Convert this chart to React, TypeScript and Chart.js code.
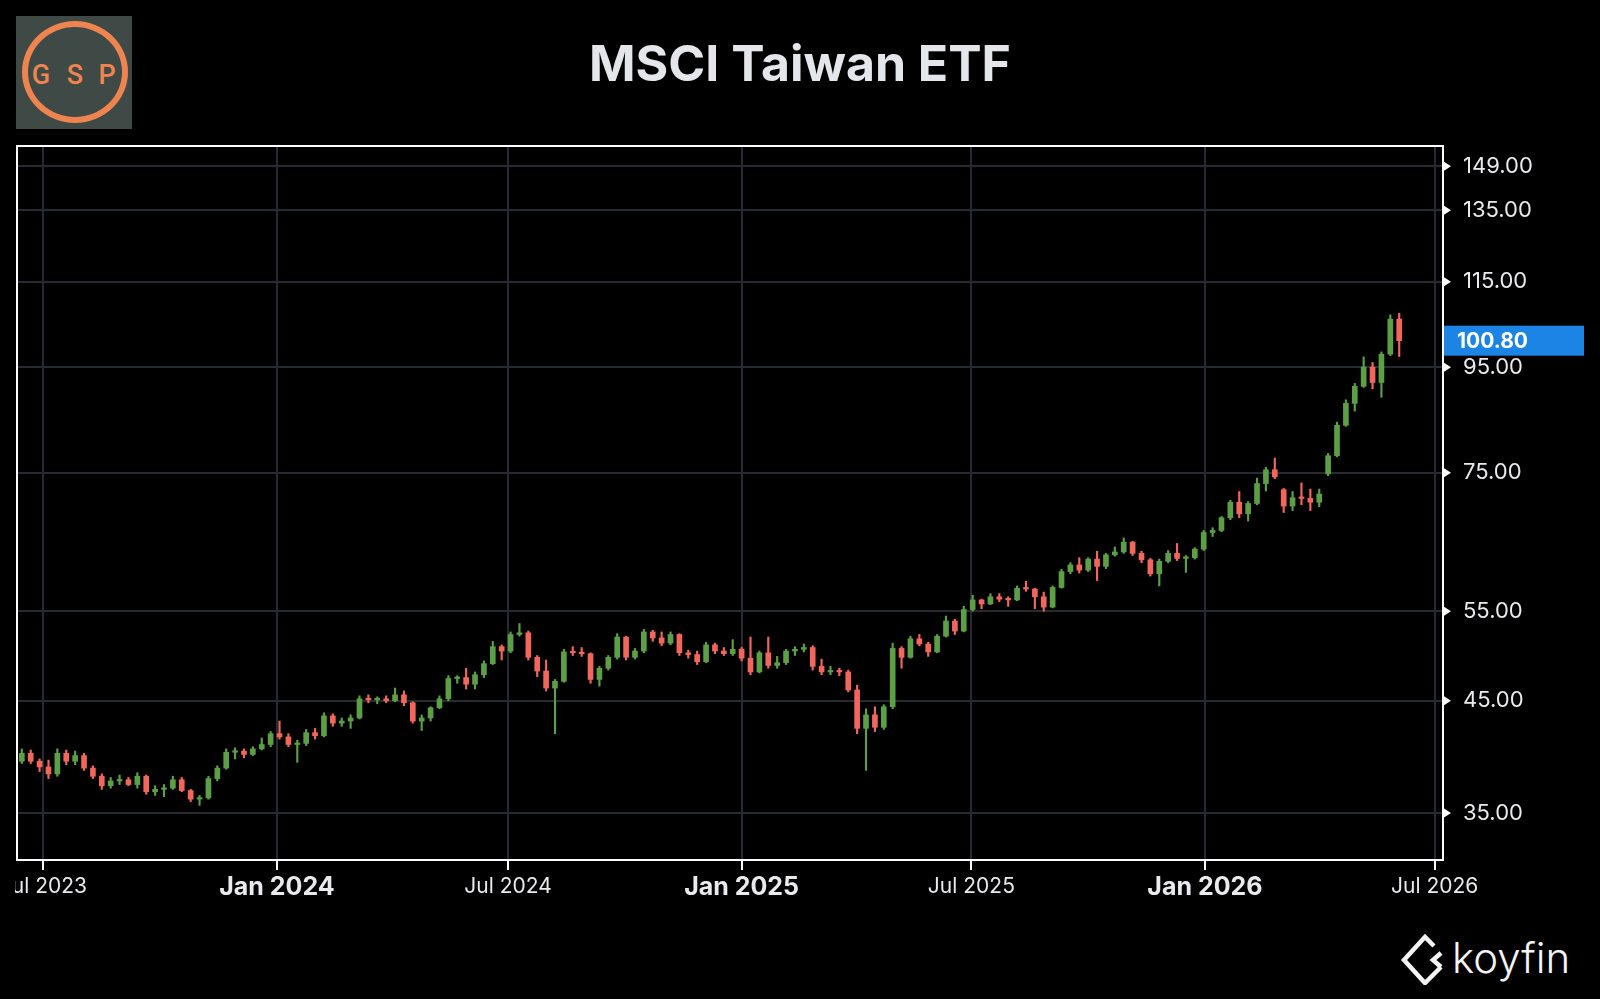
import React, { useEffect, useRef } from "react";
import { Chart, registerables } from "chart.js";

Chart.register(...registerables);

const DAY = 86400000;
// weekly candles, first one centred on the week of 14 Jun 2023
const FIRST_BAR = Date.UTC(2023, 5, 14);

const opens = [
  39.3, 40.0, 39.3, 38.8, 38.2, 40.0, 39.3, 39.8, 38.7, 38.0,
  37.2, 37.6, 37.7, 37.3, 38.0, 36.7, 36.9, 37.0, 37.7, 36.8,
  36.1, 36.2, 37.8, 38.7, 40.1, 40.2, 39.9, 40.4, 40.8, 41.8,
  41.5, 40.8, 40.9, 41.9, 41.6, 43.5, 42.8, 43.0, 43.3, 45.2,
  45.1, 45.2, 45.0, 45.6, 44.8, 43.0, 43.3, 44.3, 45.2, 47.3,
  47.4, 46.7, 47.7, 48.9, 50.8, 50.3, 52.2, 52.4, 49.6, 48.1,
  46.3, 47.0, 50.2, 50.1, 50.0, 47.2, 48.4, 49.6, 51.9, 49.6,
  50.3, 52.5, 51.8, 51.2, 52.2, 50.1, 49.9, 49.1, 51.0, 50.3,
  50.0, 50.5, 49.5, 48.0, 50.1, 48.7, 49.0, 50.3, 50.5, 50.7,
  48.6, 48.0, 48.1, 48.0, 46.1, 42.3, 43.6, 42.4, 44.4, 50.6,
  49.6, 51.7, 51.1, 50.2, 52.0, 53.8, 52.6, 55.2, 56.4, 55.9,
  56.8, 56.5, 56.4, 57.9, 57.8, 56.8, 55.5, 58.0, 60.1, 61.0,
  60.3, 61.8, 60.8, 62.4, 62.8, 64.2, 62.6, 61.7, 59.8, 61.5,
  62.6, 61.9, 62.0, 63.2, 65.6, 65.9, 67.8, 70.2, 68.4, 70.0,
  73.2, 75.5, 72.2, 69.6, 70.9, 70.8, 70.2, 74.8, 77.9, 83.4,
  87.6, 91.0, 95.0, 91.8, 97.8, 105.8,
];
const highs = [
  40.4, 40.3, 39.5, 39.4, 40.4, 40.3, 40.2, 40.0, 38.9, 38.2,
  37.9, 38.1, 37.9, 38.3, 38.1, 37.2, 37.3, 38.0, 37.9, 36.9,
  36.4, 38.0, 38.9, 40.4, 40.5, 40.4, 40.6, 41.4, 42.0, 43.0,
  41.8, 41.2, 42.2, 42.3, 43.8, 43.7, 43.3, 43.6, 45.5, 45.6,
  45.4, 45.5, 46.3, 46.0, 44.9, 43.6, 44.4, 45.5, 47.6, 47.6,
  48.4, 48.0, 49.2, 51.4, 51.0, 52.5, 53.5, 52.6, 49.8, 49.3,
  47.2, 50.5, 50.8, 50.7, 50.1, 48.6, 49.8, 52.3, 52.0, 50.6,
  52.8, 52.7, 52.5, 52.5, 52.3, 50.4, 50.3, 51.3, 51.2, 50.7,
  51.6, 50.7, 51.9, 50.3, 51.9, 49.7, 50.5, 50.8, 51.1, 50.9,
  49.4, 48.6, 48.4, 48.2, 46.6, 44.2, 44.4, 44.6, 51.2, 50.8,
  52.0, 52.2, 51.3, 52.2, 54.4, 54.0, 55.6, 57.0, 56.5, 57.2,
  57.2, 56.8, 58.2, 58.8, 57.9, 57.4, 58.2, 60.4, 61.3, 62.0,
  62.0, 62.9, 62.6, 63.5, 64.8, 64.3, 62.9, 61.9, 61.8, 63.0,
  64.0, 62.3, 63.4, 65.9, 66.3, 68.0, 70.5, 71.9, 70.3, 74.1,
  75.9, 77.5, 72.4, 71.9, 73.3, 72.3, 72.3, 78.3, 84.0, 88.3,
  91.6, 97.2, 96.0, 98.3, 106.8, 107.2,
];
const lows = [
  39.1, 39.1, 38.4, 37.8, 38.0, 39.0, 39.0, 38.5, 37.8, 36.9,
  37.0, 37.3, 37.2, 37.0, 36.5, 36.4, 36.3, 36.9, 36.7, 35.9,
  35.6, 36.1, 37.6, 38.6, 39.5, 39.6, 39.8, 40.3, 40.6, 41.3,
  40.6, 39.2, 40.7, 41.3, 41.5, 42.5, 42.5, 42.3, 43.2, 44.8,
  44.7, 44.8, 44.9, 44.5, 42.8, 42.1, 43.0, 44.2, 45.0, 46.8,
  46.2, 46.2, 47.4, 48.8, 49.3, 50.1, 52.0, 49.3, 47.5, 46.0,
  41.8, 46.9, 49.8, 49.7, 46.8, 46.5, 48.2, 49.4, 49.3, 49.4,
  50.1, 51.4, 50.9, 51.0, 49.8, 49.5, 48.8, 49.0, 50.0, 49.8,
  49.8, 49.2, 47.7, 47.9, 48.4, 48.4, 48.8, 49.8, 50.2, 48.2,
  47.7, 47.7, 47.6, 45.9, 41.8, 38.5, 42.0, 42.2, 44.2, 48.4,
  49.5, 50.9, 49.7, 50.1, 51.9, 52.2, 52.5, 55.0, 55.3, 55.8,
  56.2, 55.6, 56.3, 57.5, 55.3, 55.0, 55.4, 57.9, 59.8, 59.9,
  60.1, 58.9, 60.5, 62.2, 62.6, 62.3, 61.3, 59.5, 58.2, 61.3,
  61.6, 60.0, 61.8, 63.0, 65.0, 65.7, 67.5, 67.8, 67.3, 69.8,
  72.0, 74.0, 68.6, 68.9, 69.8, 68.9, 69.5, 74.5, 77.7, 83.2,
  86.1, 90.8, 90.5, 88.8, 97.5, 97.3,
];
const closes = [
  40.0, 39.3, 38.8, 38.2, 40.0, 39.3, 39.8, 38.7, 38.0, 37.2,
  37.6, 37.7, 37.3, 38.0, 36.7, 36.9, 37.0, 37.7, 36.8, 36.1,
  36.2, 37.8, 38.7, 40.1, 40.2, 39.9, 40.4, 40.8, 41.8, 41.5,
  40.8, 40.9, 41.9, 41.6, 43.5, 42.8, 43.0, 43.3, 45.2, 45.1,
  45.2, 45.0, 45.6, 44.8, 43.0, 43.3, 44.3, 45.2, 47.3, 47.4,
  46.7, 47.7, 48.9, 50.8, 50.3, 52.2, 52.4, 49.6, 48.1, 46.3,
  47.0, 50.2, 50.1, 50.0, 47.2, 48.4, 49.6, 51.9, 49.6, 50.3,
  52.5, 51.8, 51.2, 52.2, 50.1, 49.9, 49.1, 51.0, 50.3, 50.0,
  50.5, 49.5, 48.0, 50.1, 48.7, 49.0, 50.3, 50.5, 50.7, 48.6,
  48.0, 48.1, 48.0, 46.1, 42.3, 43.6, 42.4, 44.4, 50.6, 49.6,
  51.7, 51.1, 50.2, 52.0, 53.8, 52.6, 55.2, 56.4, 55.9, 56.8,
  56.5, 56.4, 57.9, 57.8, 56.8, 55.5, 58.0, 60.1, 61.0, 60.3,
  61.8, 60.8, 62.4, 62.8, 64.2, 62.6, 61.7, 59.8, 61.5, 62.6,
  61.9, 62.0, 63.2, 65.6, 65.9, 67.8, 70.2, 68.4, 70.0, 73.2,
  75.5, 74.3, 69.6, 70.9, 70.8, 70.2, 71.5, 77.9, 83.4, 87.6,
  91.0, 95.0, 91.8, 97.8, 105.8, 100.8,
];

const barDates = closes.map((_, i) => FIRST_BAR + i * 7 * DAY);

const xTickDates = [
  Date.UTC(2023, 6, 1),
  Date.UTC(2024, 0, 1),
  Date.UTC(2024, 6, 1),
  Date.UTC(2025, 0, 1),
  Date.UTC(2025, 6, 1),
  Date.UTC(2026, 0, 1),
  Date.UTC(2026, 6, 1),
];
const xTickLabels = ["Jul 2023", "Jan 2024", "Jul 2024", "Jan 2025", "Jul 2025", "Jan 2026", "Jul 2026"];
const yTicks = [35, 45, 55, 75, 95, 115, 135, 149];
const lastPrice = 100.8;
const logoLetters = ["G", "S", "P"];

const X_MIN = Date.UTC(2023, 5, 10, 5);
const X_MAX = Date.UTC(2026, 6, 7, 12);
const Y_MIN = 31.5;
const Y_MAX = 155.9;

const GREEN = "#5c9f45";
const RED = "#f2665c";
const GRID = "#262a33";
const TEXT = "#e9e9ee";
const ORANGE = "#f0844f";
const FONT = "Inter, Roboto, 'DejaVu Sans', sans-serif";

const frame = {
  id: "frame",
  afterDraw(chart: any) {
    const { ctx, chartArea } = chart;
    const { left, top, right, bottom } = chartArea;
    ctx.save();
    ctx.strokeStyle = "#ffffff";
    ctx.lineWidth = 2;
    ctx.strokeRect(left, top, right - left, bottom - top);
    // tick arrows on the price axis
    const ys = chart.scales.y;
    ctx.fillStyle = "#ffffff";
    yTicks.forEach((v) => {
      const y = ys.getPixelForValue(v);
      ctx.beginPath();
      ctx.moveTo(right + 1, y - 4.5);
      ctx.lineTo(right + 8, y);
      ctx.lineTo(right + 1, y + 4.5);
      ctx.closePath();
      ctx.fill();
    });
    // last price badge
    const py = ys.getPixelForValue(lastPrice);
    ctx.fillStyle = "#1c84e4";
    ctx.fillRect(right + 1, py - 15, 140, 30);
    ctx.fillStyle = "#ffffff";
    ctx.font = `bold 21px ${FONT}`;
    ctx.textBaseline = "middle";
    ctx.textAlign = "left";
    ctx.fillText(lastPrice.toFixed(2), right + 14, py + 1);
    ctx.restore();
  },
};

function CandleChart() {
  const ref = useRef<HTMLCanvasElement | null>(null);
  useEffect(() => {
    if (!ref.current) return;
    const up = (i: number) => closes[i] >= opens[i];
    const chart = new Chart(ref.current, {
      type: "bar",
      data: {
        datasets: [
          {
            label: "body",
            data: barDates.map((x, i) => ({ x, y: [opens[i], closes[i]] })) as any,
            backgroundColor: (c: any) => (up(c.dataIndex) ? GREEN : RED),
            barThickness: 5,
            minBarLength: 1.5,
            grouped: false,
            order: 0,
          } as any,
          {
            label: "wick",
            data: barDates.map((x, i) => ({ x, y: [lows[i], highs[i]] })) as any,
            backgroundColor: (c: any) => (up(c.dataIndex) ? GREEN : RED),
            barThickness: 1.5,
            grouped: false,
            order: 1,
          } as any,
        ],
      },
      options: {
        responsive: false,
        maintainAspectRatio: false,
        animation: false,
        layout: { padding: { left: 2, top: 146, right: 0, bottom: 0 } },
        plugins: {
          legend: { display: false },
          tooltip: { enabled: false },
          title: { display: false },
        },
        scales: {
          x: {
            type: "linear",
            position: "bottom",
            offset: false,
            min: X_MIN,
            max: X_MAX,
            afterBuildTicks: (s: any) => {
              s.ticks = xTickDates.map((v) => ({ value: v }));
            },
            afterFit: (s: any) => {
              s.height = 60;
              s.paddingLeft = 0;
              s.paddingRight = 0;
            },
            grid: {
              offset: false,
              color: GRID,
              lineWidth: 2,
              drawTicks: true,
              tickLength: 10,
              tickColor: "#ffffff",
              tickWidth: 2,
            },
            border: { display: false },
            ticks: {
              autoSkip: false,
              maxRotation: 0,
              padding: 0,
              color: TEXT,
              callback: (v: any) => xTickLabels[xTickDates.indexOf(Number(v))],
              font: (c: any) => {
                const jan = xTickLabels[c.index] && xTickLabels[c.index].startsWith("Jan");
                return jan
                  ? { family: FONT, size: 25, weight: "bold", lineHeight: 34 / 25 }
                  : { family: FONT, size: 21, weight: "normal", lineHeight: 34 / 21 };
              },
            },
          } as any,
          y: {
            type: "logarithmic",
            position: "right",
            min: Y_MIN,
            max: Y_MAX,
            afterBuildTicks: (s: any) => {
              s.ticks = yTicks.map((v) => ({ value: v }));
            },
            afterFit: (s: any) => {
              s.width = 157;
              s.paddingTop = 0;
              s.paddingBottom = 0;
            },
            grid: { color: GRID, lineWidth: 2, drawTicks: false },
            border: { display: false },
            ticks: {
              padding: 20,
              color: TEXT,
              font: { family: FONT, size: 22 },
              callback: (v: any) => Number(v).toFixed(2),
            },
          } as any,
        },
      },
      plugins: [frame],
    });
    return () => chart.destroy();
  }, []);
  return (
    <canvas
      ref={ref}
      width={1585}
      height={920}
      style={{ position: "absolute", left: 15, top: 0, width: 1585, height: 920 }}
    />
  );
}

function Logo() {
  const centers = [25, 59, 91];
  return (
    <div
      style={{
        position: "absolute",
        left: 16,
        top: 16,
        width: 116,
        height: 113,
        background: "#3f4a47",
      }}
    >
      <div
        style={{
          position: "absolute",
          left: 6,
          top: 5,
          width: 106,
          height: 102,
          boxSizing: "border-box",
          border: `6px solid ${ORANGE}`,
          borderRadius: "50%",
        }}
      />
      {logoLetters.map((l, i) => (
        <div
          key={l}
          style={{
            position: "absolute",
            left: centers[i] - 15,
            top: 43,
            width: 30,
            textAlign: "center",
            color: ORANGE,
            font: `500 27px Roboto, sans-serif`,
            lineHeight: "32px",
          }}
        >
          {l}
        </div>
      ))}
    </div>
  );
}

function Koyfin() {
  return (
    <div style={{ position: "absolute", left: 1400, top: 930, height: 56, display: "flex", alignItems: "center" }}>
      <svg width="46" height="54" viewBox="0 0 46 54" style={{ display: "block" }}>
        <path d="M34 15 L25 6 L4 29 L25 52 L41 36" fill="none" stroke="#f4f4f4" strokeWidth="4.5" strokeLinejoin="miter" />
        <path d="M41 22 L33 29 L41 36" fill="none" stroke="#f4f4f4" strokeWidth="4.5" strokeLinejoin="miter" />
      </svg>
      <span style={{ color: "#f4f4f4", font: `300 42px ${FONT}`, marginLeft: 6, lineHeight: "50px" }}>koyfin</span>
    </div>
  );
}

export default function App() {
  return (
    <div
      style={{
        position: "fixed",
        left: 0,
        top: 0,
        width: 1600,
        height: 999,
        background: "#000000",
        overflow: "hidden",
      }}
    >
      <div
        style={{
          position: "absolute",
          left: 0,
          top: 38,
          width: 1600,
          textAlign: "center",
          color: "#e4e6eb",
          font: `bold 50px ${FONT}`,
          lineHeight: "50px",
        }}
      >
        MSCI Taiwan ETF
      </div>
      <Logo />
      <CandleChart />
      <Koyfin />
    </div>
  );
}
